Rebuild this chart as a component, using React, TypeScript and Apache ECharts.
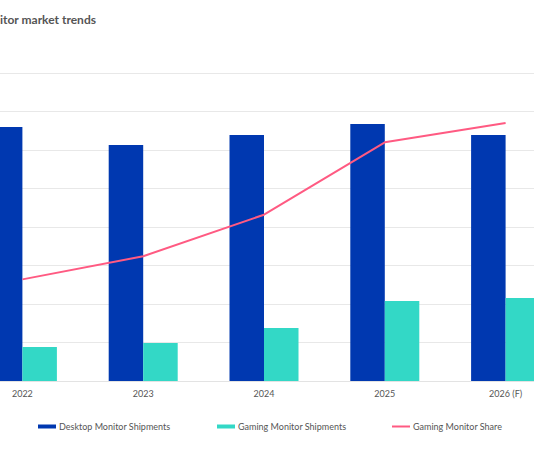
import React, { useEffect, useRef } from "react";
import * as echarts from "echarts";

const categories = ["2022", "2023", "2024", "2025", "2026 (F)"];
const desktopShipments = [132, 122.6, 127.8, 133.5, 127.8];
const gamingShipments = [17.7, 19.7, 27.5, 41.6, 43.1];
const gamingShare = [13.2, 16.2, 21.6, 31.0, 33.5];
const titleText = "itor market trends";

const FONT = "Lato, 'Noto Sans', sans-serif";
const SHIFT = 38;

export default function App() {
  const ref = useRef<HTMLDivElement>(null);
  useEffect(() => {
    document.body.style.margin = "0";
    const chart = echarts.init(ref.current!, null, { renderer: "svg" });
    const legendBase = {
      top: 422,
      padding: 0,
      itemWidth: 18,
      itemHeight: 4,
      itemGap: 3,
      textStyle: { color: "#555", fontSize: 9, fontFamily: FONT, padding: [0, 0, 0, -2] },
    };
    chart.setOption({
      animation: false,
      backgroundColor: "#fff",
      graphic: [
        {
          type: "text",
          left: SHIFT,
          top: 13,
          style: { text: titleText, fill: "#555", font: `bold 12px ${FONT}` },
        },
      ],
      legend: [
        { ...legendBase, left: SHIFT + 38, data: [{ name: "Desktop Monitor Shipments", icon: "rect" }] },
        { ...legendBase, left: SHIFT + 217, data: [{ name: "Gaming Monitor Shipments", icon: "rect" }] },
        { ...legendBase, left: SHIFT + 392, itemHeight: 2, data: [{ name: "Gaming Monitor Share", icon: "rect" }] },
      ],
      grid: { left: 0, right: 0, top: 73, bottom: 81 },
      xAxis: {
        type: "category",
        data: categories,
        axisTick: { show: false },
        axisLine: { lineStyle: { color: "#e3e3e3", width: 1 } },
        axisLabel: { color: "#555", fontSize: 9, fontFamily: FONT, margin: 8 },
      },
      yAxis: [
        {
          type: "value",
          min: 0,
          max: 160,
          interval: 20,
          axisLabel: { show: false },
          axisLine: { show: false },
          axisTick: { show: false },
          splitLine: { lineStyle: { color: "#e8e8e8", width: 1 } },
        },
        {
          type: "value",
          min: 0,
          max: 40,
          interval: 5,
          axisLabel: { show: false },
          axisLine: { show: false },
          axisTick: { show: false },
          splitLine: { show: false },
        },
      ],
      series: [
        {
          name: "Desktop Monitor Shipments",
          type: "bar",
          data: desktopShipments,
          barWidth: 34.5,
          barGap: "0%",
          itemStyle: { color: "#0038b0" },
        },
        {
          name: "Gaming Monitor Shipments",
          type: "bar",
          data: gamingShipments,
          barWidth: 34.5,
          barGap: "0%",
          itemStyle: { color: "#33d8c6" },
        },
        {
          name: "Gaming Monitor Share",
          type: "line",
          yAxisIndex: 1,
          data: gamingShare,
          showSymbol: false,
          symbol: "none",
          lineStyle: { color: "#ff5a82", width: 2 },
          itemStyle: { color: "#ff5a82" },
          z: 5,
        },
      ],
    });
    return () => chart.dispose();
  }, []);
  return (
    <div style={{ position: "fixed", left: 0, top: 0, width: 534, height: 462, overflow: "hidden" }}>
      <div ref={ref} style={{ position: "absolute", left: -SHIFT, top: 0, width: 604, height: 462 }} />
    </div>
  );
}
